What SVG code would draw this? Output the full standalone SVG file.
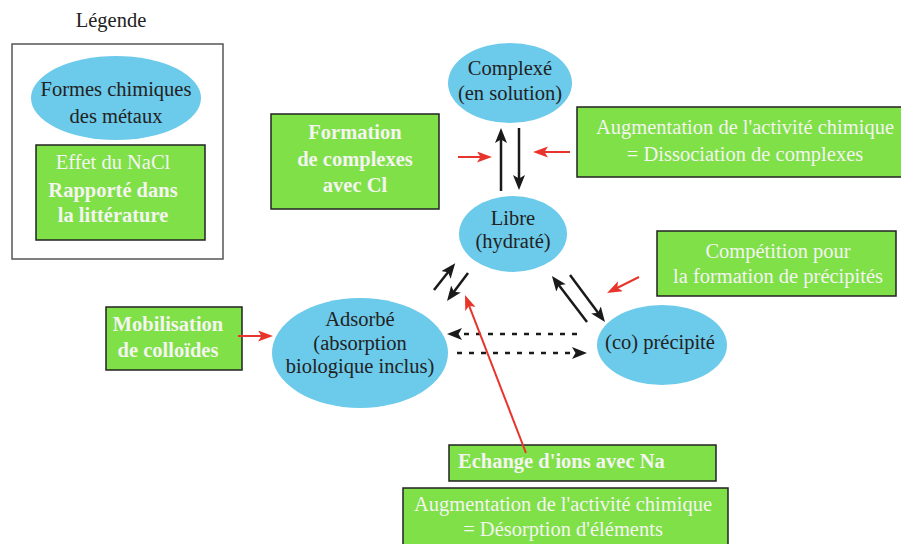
<svg xmlns="http://www.w3.org/2000/svg" width="901" height="544" viewBox="0 0 901 544">
<defs>
<style>
text{font-family:"Liberation Serif","Times New Roman",serif;font-size:20.5px;text-anchor:middle}
.dk{fill:#222}
.wt{fill:#f4f4f0}
.b{font-weight:bold}
.ell{fill:#6ccaea}
.box{fill:#7fe048;stroke:#222;stroke-width:1.5}
.blk{stroke:#1a1a1a;stroke-width:2.5;fill:none}
.red{stroke:#e8352b;stroke-width:2;fill:none}
.dash{stroke:#1a1a1a;stroke-width:2.5;fill:none;stroke-dasharray:5 7}
</style>
<marker id="ah" markerUnits="userSpaceOnUse" markerWidth="16" markerHeight="13" refX="5" refY="6" orient="auto">
<path d="M0,0 L15,6 L0,12 L3.5,6 z" fill="#1a1a1a"/>
</marker>
<marker id="ar" markerUnits="userSpaceOnUse" markerWidth="16" markerHeight="13" refX="5" refY="5.5" orient="auto">
<path d="M0,0 L15,5.5 L0,11 L3.5,5.5 z" fill="#e8352b"/>
</marker>
</defs>
<rect width="901" height="544" fill="#ffffff"/>

<g id="legende">
<text x="111" y="27" class="dk">Légende</text>
<rect x="12" y="44" width="211" height="215" fill="none" stroke="#555" stroke-width="1.5"/>
<ellipse cx="116" cy="98" rx="85" ry="42" class="ell"/>
<text x="116" y="96" class="dk">Formes chimiques</text>
<text x="116" y="123" class="dk">des métaux</text>
<rect x="36" y="145" width="169" height="95" class="box"/>
<text x="113" y="169" class="wt">Effet du NaCl</text>
<text x="113" y="197" class="wt b">Rapporté dans</text>
<text x="113" y="222" class="wt b">la littérature</text>
</g>

<g id="complexe">
<ellipse cx="510" cy="83" rx="62" ry="40" class="ell"/>
<text x="510" y="75" class="dk">Complexé</text>
<text x="510" y="100" class="dk">(en solution)</text>
</g>

<g id="libre">
<ellipse cx="513" cy="234" rx="54" ry="38" class="ell"/>
<text x="513" y="225" class="dk">Libre</text>
<text x="513" y="248" class="dk">(hydraté)</text>
</g>

<g id="adsorbe">
<ellipse cx="360" cy="353" rx="88" ry="55" class="ell"/>
<text x="360" y="326" class="dk">Adsorbé</text>
<text x="360" y="350" class="dk">(absorption</text>
<text x="360" y="373" class="dk">biologique inclus)</text>
</g>

<g id="precipite">
<ellipse cx="662" cy="345" rx="65" ry="40" class="ell"/>
<text x="660" y="349" class="dk">(co) précipité</text>
</g>

<g id="formation">
<rect x="271" y="114" width="168" height="95" class="box"/>
<text x="355" y="139" class="wt b">Formation</text>
<text x="355" y="166" class="wt b">de complexes</text>
<text x="355" y="192" class="wt b">avec Cl</text>
</g>

<g id="dissociation">
<rect x="577" y="107" width="326" height="70" class="box"/>
<text x="745" y="134" class="wt">Augmentation de l'activité chimique</text>
<text x="745" y="161" class="wt">= Dissociation de complexes</text>
</g>

<g id="competition">
<rect x="657" y="231" width="239" height="65" class="box"/>
<text x="778" y="258" class="wt">Compétition pour</text>
<text x="778" y="283" class="wt">la formation de précipités</text>
</g>

<g id="mobilisation">
<rect x="106" y="307" width="136" height="63" class="box"/>
<text x="168" y="331" class="wt b">Mobilisation</text>
<text x="168" y="357" class="wt b">de colloïdes</text>
</g>

<g id="echange">
<rect x="449" y="445" width="267" height="36" class="box"/>
<text x="458" y="468" class="wt b" style="text-anchor:start">Echange d'ions avec Na</text>
</g>

<g id="desorption">
<rect x="403" y="488" width="325" height="62" class="box"/>
<text x="563" y="511" class="wt">Augmentation de l'activité chimique</text>
<text x="563" y="536" class="wt">= Désorption d'éléments</text>
</g>

<g id="connecteurs">
<line x1="501" y1="191" x2="501" y2="138" class="blk" marker-end="url(#ah)"/>
<line x1="519" y1="128" x2="519" y2="180" class="blk" marker-end="url(#ah)"/>
<line x1="434" y1="290" x2="449" y2="271" class="blk" marker-end="url(#ah)"/>
<line x1="468" y1="273" x2="453" y2="293" class="blk" marker-end="url(#ah)"/>
<line x1="587" y1="322" x2="558" y2="284" class="blk" marker-end="url(#ah)"/>
<line x1="570" y1="275" x2="599" y2="314" class="blk" marker-end="url(#ah)"/>
<line x1="577" y1="334" x2="457" y2="334" class="dash" marker-end="url(#ah)"/>
<line x1="457" y1="353" x2="577" y2="353" class="dash" marker-end="url(#ah)"/>
<line x1="458" y1="157" x2="482" y2="157" class="red" marker-end="url(#ar)"/>
<line x1="570" y1="152" x2="543" y2="152" class="red" marker-end="url(#ar)"/>
<line x1="639" y1="277" x2="616" y2="288.5" class="red" marker-end="url(#ar)"/>
<line x1="526" y1="453" x2="468.6" y2="304.3" class="red" marker-end="url(#ar)"/>
<line x1="238" y1="336" x2="263" y2="336" class="red" marker-end="url(#ar)"/>
</g>
</svg>
